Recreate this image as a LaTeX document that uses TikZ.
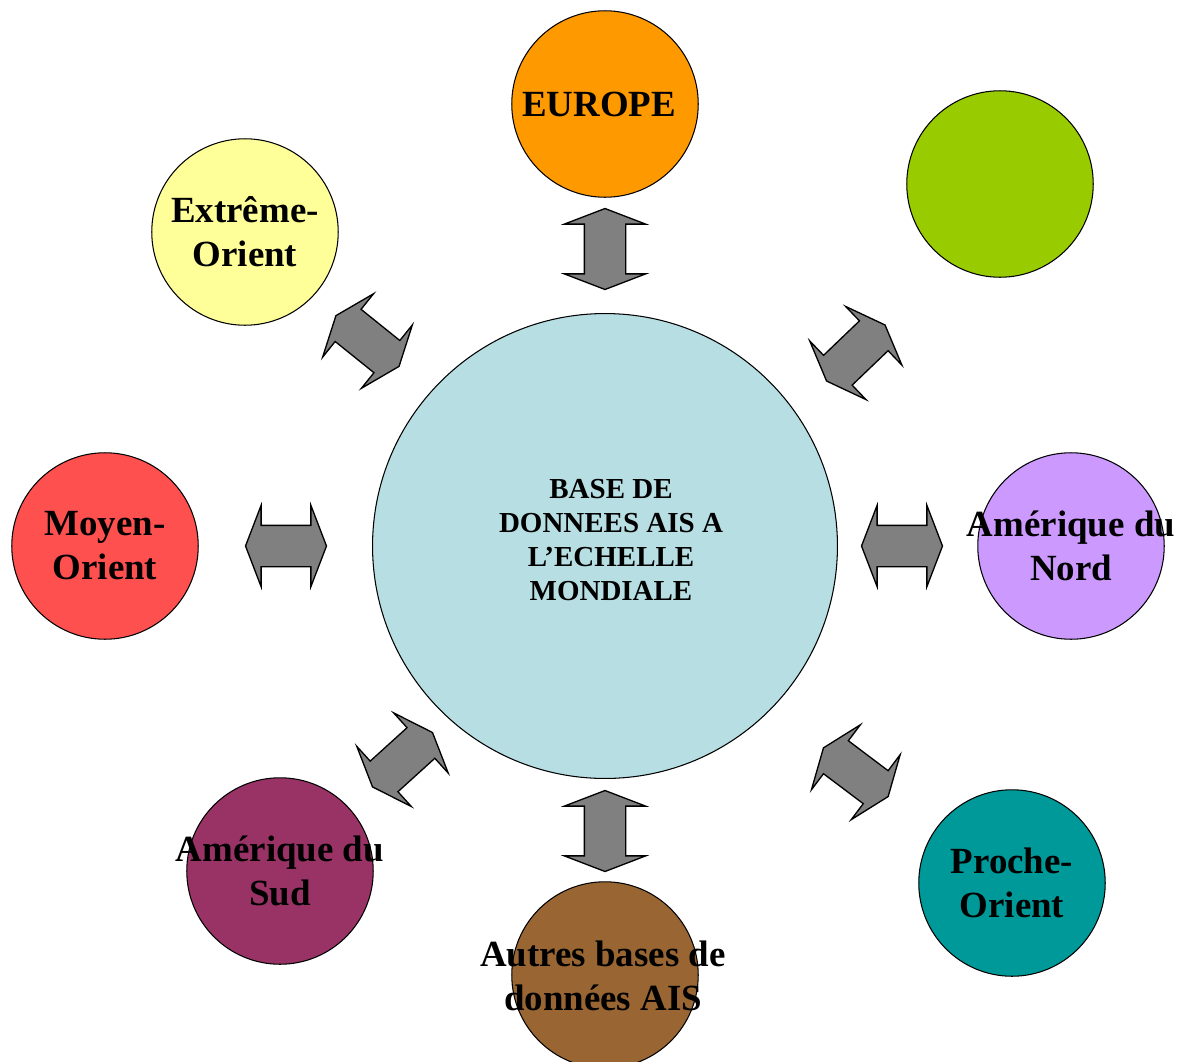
\documentclass[tikz,border=0pt]{standalone}
\usepackage{fontspec}
\setmainfont{Liberation Serif}
\usepackage{tikz}
\usetikzlibrary{shapes.arrows}

\definecolor{cBase}{RGB}{183,223,227}
\definecolor{cEurope}{RGB}{255,153,0}
\definecolor{cVert}{RGB}{153,204,0}
\definecolor{cExtreme}{RGB}{255,255,153}
\definecolor{cMoyen}{RGB}{255,80,80}
\definecolor{cNord}{RGB}{204,153,255}
\definecolor{cSud}{RGB}{153,51,102}
\definecolor{cProche}{RGB}{0,153,153}
\definecolor{cAutres}{RGB}{153,102,51}

\newcommand{\shaft}{\rule{0pt}{0.8cm}}

\tikzset{
	zone/.style={circle, draw=black, line width=0.6pt, minimum size=3.73cm, inner sep=0pt},
	zonetxt/.style={font=\fontsize{21}{25}\selectfont\bfseries, align=center, inner sep=0pt},
	dblarr/.style={double arrow, draw=black, fill=black!50, line width=0.75pt, inner sep=0pt,
		minimum height=1.62cm, minimum width=1.6cm, double arrow head extend=0.4cm, double arrow tip angle=138}
}

\begin{document}
\begin{tikzpicture}[x=0.02cm, y=-0.02cm]
		\useasboundingbox (0,0) rectangle (1184,1062);
		\node[circle, draw=black, line width=0.6pt, fill=cBase, minimum size=9.3cm, inner sep=0pt] (base) at (605,546) {};
		\node[zone, fill=cEurope] (europe) at (605,104) {};
		\node[zone, fill=cVert] (vert) at (1000,184) {};
		\node[zone, fill=cExtreme] (extreme) at (245,232) {};
		\node[zone, fill=cMoyen] (moyen) at (105,546) {};
		\node[zone, fill=cNord] (nord) at (1071,546) {};
		\node[zone, fill=cSud] (sud) at (280,871) {};
		\node[zone, fill=cProche] (proche) at (1012,883) {};
		\node[zone, fill=cAutres] (autres) at (605,975) {};
		\node[font=\fontsize{16.5}{19.3}\selectfont\bfseries, align=center, inner sep=0pt] (baseT) at (611,540) {BASE DE\\DONNEES AIS A\\L’ECHELLE\\MONDIALE};
		\node[zonetxt] (europeT) at (599,104) {EUROPE};
		\node[zonetxt] (extremeT) at (extreme) {Extrême-\\Orient};
		\node[zonetxt] (moyenT) at (moyen) {Moyen-\\Orient};
		\node[zonetxt] (nordT) at (nord) {Amérique du\\Nord};
		\node[zonetxt] (sudT) at (sud) {Amérique du\\Sud};
		\node[zonetxt] (procheT) at (proche) {Proche-\\Orient};
		\node[zonetxt] (autresT) at (603,976) {Autres bases de\\données AIS};
		\node[dblarr, rotate=90] (aEurope) at (605,249) {\shaft};
		\node[dblarr, rotate=90] (aAutres) at (605,831) {\shaft};
		\node[dblarr] (aMoyen) at (286,546) {\shaft};
		\node[dblarr] (aNord) at (902,546) {\shaft};
		\node[dblarr, rotate=-38.8] (aExtreme) at (367.5,341) {\shaft};
		\node[dblarr, rotate=43.8] (aVert) at (855.8,353) {\shaft};
		\node[dblarr, rotate=42.2] (aSud) at (402.5,759.7) {\shaft};
		\node[dblarr, rotate=-37] (aProche) at (855.8,772.2) {\shaft};
	\end{tikzpicture}
\end{document}
